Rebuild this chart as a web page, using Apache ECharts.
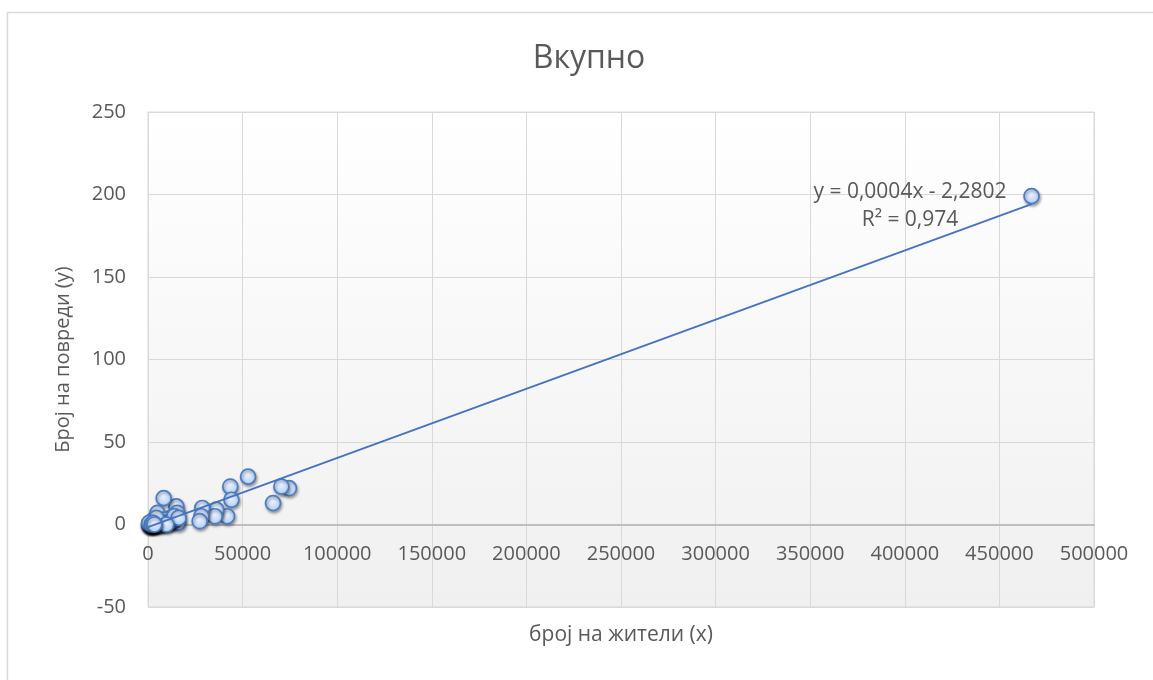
<!DOCTYPE html>
<html>
<head>
<meta charset="utf-8">
<script src="https://cdn.jsdelivr.net/npm/echarts@6/dist/echarts.min.js"></script>
<style>
html,body{margin:0;padding:0;background:#fff;}
#chart{width:1153px;height:680px;}
</style>
</head>
<body>
<div id="chart"></div>
<script>
// Population (x) per municipality
const population = [
  467000, 74500, 70500, 66100, 52900, 43500, 44100, 41800, 36100, 35300,
  28700, 28200, 27300, 15000, 15500, 15900, 13200, 10600, 8300, 5000,
  2600, 7100, 900, 500, 800, 1100, 1400, 1700, 2000, 2500,
  3000, 3200, 3600, 4000, 4300, 4800, 5500, 6000, 6500, 7500,
  8500, 9000, 11000, 12000, 13500, 14000, 16200, 3000, 4500, 9700,
  1300, 2200, 600, 1900, 2800, 3400
];
// Number of injuries (y)
const injuries = [
  199, 22, 23, 13, 29, 23, 15, 5, 9, 5,
  10, 5, 2, 11, 7, 1, 5, 3, 16, 7,
  2, 1, 0, 0, 0, 0, 0, 0, 1, 0,
  0, 1, 0, 1, 0, 2, 1, 0, 2, 1,
  3, 1, 1, 2, 3, 5, 4, 3, 4, 0,
  1, 0, 1, 0, 1, 0
];
const xTicks = { min: 0, max: 500000, interval: 50000 };
const yTicks = { min: -50, max: 250, interval: 50 };
const titleText = 'Вкупно';
const xName = 'број на жители (x)';
const yName = 'Број на повреди (y)';
const eqText = 'y = 0,0004x - 2,2802';
const r2Text = 'R² = 0,974';

const points = population.map((x, i) => [x, injuries[i]]);

// least-squares linear trendline computed from the data
const n = points.length;
let sx = 0, sy = 0, sxx = 0, sxy = 0;
points.forEach(([x, y]) => { sx += x; sy += y; sxx += x * x; sxy += x * y; });
const slope = (n * sxy - sx * sy) / (n * sxx - sx * sx);
const intercept = (sy - slope * sx) / n;
const maxX = Math.max(...population);
const trend = [[0, intercept], [maxX, intercept + slope * maxX]];

const FONT = 'Open Sans';
const TXT = '#595959';
const GRID = { left: 148, right: 59, top: 112, bottom: 73 };
const plotH = 680 - GRID.top - GRID.bottom;
// lift the x axis (labels included) up to the y = 0 line, as Excel does
const zeroOffset = plotH * (0 - yTicks.min) / (yTicks.max - yTicks.min);

const chart = echarts.init(document.getElementById('chart'), null, { renderer: 'canvas' });
chart.setOption({
  backgroundColor: '#ffffff',
  animation: false,
  title: {
    text: titleText, left: 584, top: 38, textAlign: 'center',
    textStyle: { fontFamily: FONT, fontSize: 32, fontWeight: 'normal', color: TXT }
  },
  grid: {
    left: GRID.left, right: GRID.right, top: GRID.top, bottom: GRID.bottom,
    containLabel: false,
    outerBoundsMode: 'none',
    show: true,
    borderColor: '#d9d9d9', borderWidth: 1,
    backgroundColor: new echarts.graphic.LinearGradient(0, 0, 0, 1, [
      { offset: 0, color: '#ffffff' }, { offset: 1, color: '#f0f0f0' }
    ])
  },
  xAxis: {
    type: 'value', min: xTicks.min, max: xTicks.max, interval: xTicks.interval,
    offset: -zeroOffset,
    name: xName, nameLocation: 'middle', nameGap: 100,
    nameTextStyle: { fontFamily: FONT, fontSize: 21, color: TXT },
    axisLine: { show: true, onZero: false, lineStyle: { color: '#bfbfbf', width: 2 } },
    axisTick: { show: false },
    axisLabel: { fontFamily: FONT, fontSize: 20, color: TXT, margin: 20, formatter: v => String(v) },
    splitLine: { show: true, lineStyle: { color: '#d9d9d9', width: 1 } }
  },
  yAxis: {
    type: 'value', min: yTicks.min, max: yTicks.max, interval: yTicks.interval,
    name: yName, nameLocation: 'middle', nameGap: 75, nameRotate: 90,
    nameTextStyle: { fontFamily: FONT, fontSize: 20, color: TXT },
    axisLine: { show: false },
    axisTick: { show: false },
    axisLabel: { fontFamily: FONT, fontSize: 20, color: TXT, margin: 22, formatter: v => String(v) },
    splitLine: { show: true, lineStyle: { color: '#d9d9d9', width: 1 } }
  },
  series: [
    {
      type: 'scatter', data: points, symbol: 'circle', symbolSize: 15, z: 2,
      itemStyle: {
        opacity: 1,
        color: new echarts.graphic.RadialGradient(0.45, 0.35, 0.75, [
          { offset: 0, color: '#eef4fe' }, { offset: 1, color: '#a6c6f6' }
        ]),
        borderColor: '#4a7cc4', borderWidth: 1.7,
        shadowBlur: 3, shadowColor: 'rgba(0,0,0,0.35)', shadowOffsetX: 1, shadowOffsetY: 2
      }
    },
    {
      type: 'line', data: trend, symbol: 'none', z: 3, silent: true,
      lineStyle: { color: '#4472c4', width: 1.8 }
    }
  ],
  graphic: [
    { type: 'rect', shape: { x: 7.5, y: 12.5, width: 1200, height: 720 },
      style: { fill: 'none', stroke: '#d9d9d9', lineWidth: 1.5 }, z: -1, silent: true },
    { type: 'text', x: 910, y: 192, style: { text: eqText, fontFamily: FONT, fontSize: 21, fill: TXT, align: 'center', verticalAlign: 'middle' }, z: 10 },
    { type: 'text', x: 910, y: 220, style: { text: r2Text, fontFamily: FONT, fontSize: 21, fill: TXT, align: 'center', verticalAlign: 'middle' }, z: 10 }
  ]
});
</script>
</body>
</html>
